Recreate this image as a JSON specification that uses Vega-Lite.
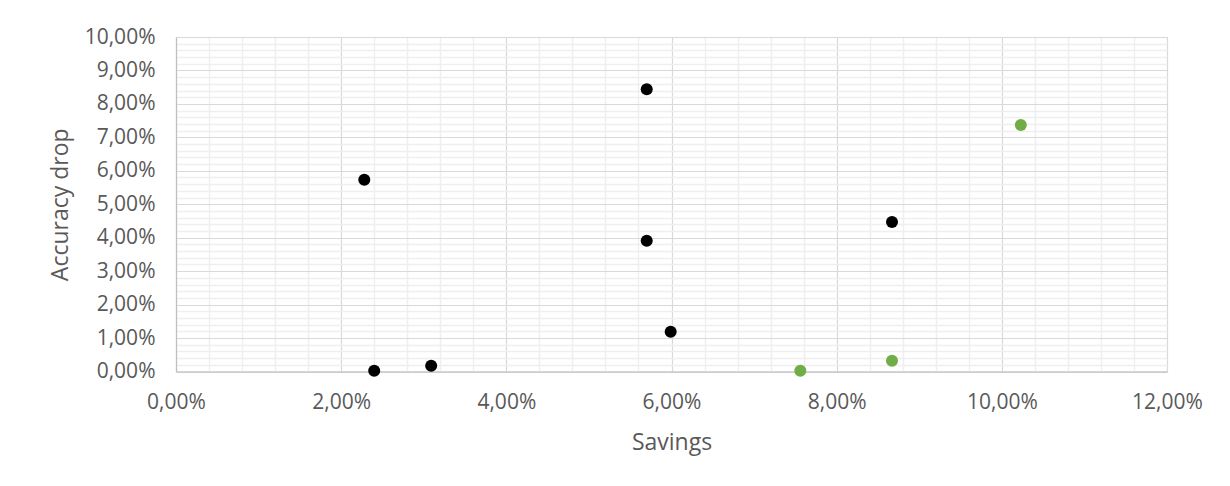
{
  "$schema": "https://vega.github.io/schema/vega-lite/v6.json",
  "width": 991,
  "height": 334.5,
  "autosize": {"type": "none"},
  "padding": {"left": 176, "top": 37, "right": 63, "bottom": 114.5},
  "background": "white",
  "config": {
    "locale": {
      "number": {"decimal": ",", "thousands": ".", "grouping": [3], "currency": ["", " €"]}
    },
    "view": {"stroke": "#D9D9D9", "strokeWidth": 1},
    "axis": {
      "labelFont": "Open Sans",
      "titleFont": "Open Sans",
      "labelColor": "#595959",
      "titleColor": "#595959",
      "labelFontSize": 21,
      "titleFontSize": 23,
      "titleFontWeight": "normal",
      "ticks": false,
      "domainColor": "#BFBFBF",
      "domainWidth": 1.2,
      "labelOverlap": false,
      "labelFlush": false
    }
  },
  "data": {
    "values": [
      {"savings": 0.0570, "accuracy_drop": 0.0844, "series": "Series 1"},
      {"savings": 0.0228, "accuracy_drop": 0.0573, "series": "Series 1"},
      {"savings": 0.0570, "accuracy_drop": 0.0391, "series": "Series 1"},
      {"savings": 0.0867, "accuracy_drop": 0.0447, "series": "Series 1"},
      {"savings": 0.0599, "accuracy_drop": 0.0119, "series": "Series 1"},
      {"savings": 0.0309, "accuracy_drop": 0.0017, "series": "Series 1"},
      {"savings": 0.0240, "accuracy_drop": 0.0002, "series": "Series 1"},
      {"savings": 0.1023, "accuracy_drop": 0.0737, "series": "Series 2"},
      {"savings": 0.0867, "accuracy_drop": 0.0032, "series": "Series 2"},
      {"savings": 0.0756, "accuracy_drop": 0.0002, "series": "Series 2"}
    ]
  },
  "mark": {"type": "point", "shape": "circle", "filled": true, "opacity": 1, "size": 145},
  "encoding": {
    "x": {
      "field": "savings",
      "type": "quantitative",
      "title": "Savings",
      "scale": {"domain": [0, 0.12], "nice": false, "zero": true},
      "axis": {
        "values": [0, 0.004, 0.008, 0.012, 0.016, 0.02, 0.024, 0.028, 0.032, 0.036, 0.04, 0.044, 0.048, 0.052, 0.056, 0.06, 0.064, 0.068, 0.072, 0.076, 0.08, 0.084, 0.088, 0.092, 0.096, 0.1, 0.104, 0.108, 0.112, 0.116, 0.12],
        "format": ".2%",
        "labelExpr": "round(datum.value * 1000) % 20 === 0 ? datum.label : ''",
        "grid": true,
        "gridColor": {"condition": {"test": "round(datum.value * 1000) % 20 === 0", "value": "#D9D9D9"}, "value": "#EFEFEF"},
        "gridWidth": {"condition": {"test": "round(datum.value * 1000) % 20 === 0", "value": 1.2}, "value": 1.5},
        "labelPadding": 20,
        "titlePadding": 19
      }
    },
    "y": {
      "field": "accuracy_drop",
      "type": "quantitative",
      "title": "Accuracy drop",
      "scale": {"domain": [0, 0.10], "nice": false, "zero": true},
      "axis": {
        "values": [0, 0.002, 0.004, 0.006, 0.008, 0.01, 0.012, 0.014, 0.016, 0.018, 0.02, 0.022, 0.024, 0.026, 0.028, 0.03, 0.032, 0.034, 0.036, 0.038, 0.04, 0.042, 0.044, 0.046, 0.048, 0.05, 0.052, 0.054, 0.056, 0.058, 0.06, 0.062, 0.064, 0.066, 0.068, 0.07, 0.072, 0.074, 0.076, 0.078, 0.08, 0.082, 0.084, 0.086, 0.088, 0.09, 0.092, 0.094, 0.096, 0.098, 0.1],
        "format": ".2%",
        "labelExpr": "round(datum.value * 1000) % 10 === 0 ? datum.label : ''",
        "grid": true,
        "gridColor": {"condition": {"test": "round(datum.value * 1000) % 10 === 0", "value": "#D9D9D9"}, "value": "#EFEFEF"},
        "gridWidth": {"condition": {"test": "round(datum.value * 1000) % 10 === 0", "value": 1.2}, "value": 1.5},
        "labelPadding": 21,
        "titlePadding": 12
      }
    },
    "color": {
      "field": "series",
      "type": "nominal",
      "scale": {"domain": ["Series 1", "Series 2"], "range": ["#000000", "#70AD47"]},
      "legend": null
    }
  }
}
